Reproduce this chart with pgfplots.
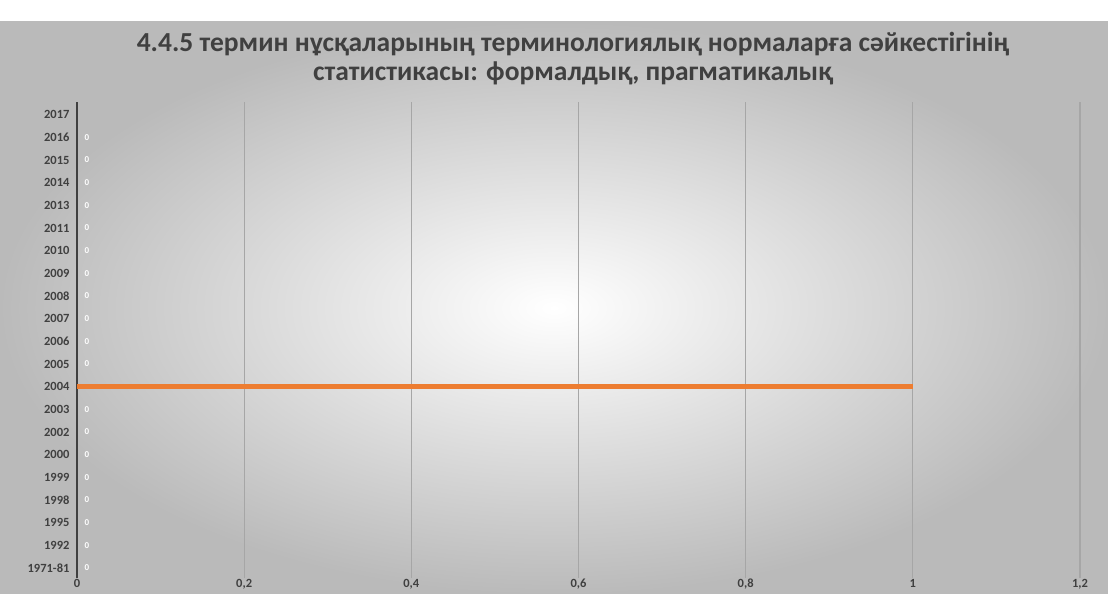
\documentclass[border=0pt]{standalone}
\usepackage{fontspec}
\setmainfont{Carlito}
\usepackage{pgfplots}
\pgfplotsset{compat=1.18}

\definecolor{barorange}{HTML}{ED7D31}
\definecolor{txt}{HTML}{404040}
\definecolor{gridgray}{HTML}{A6A6A6}

\begin{document}
\begin{tikzpicture}[x=1pt,y=1pt]
% background panel
\fill[white] (0,0) rectangle (1108,594);
\shade[inner color=white, outer color=black!27] (0,0) rectangle (1108,572);

\node[font=\bfseries\fontsize{27.5}{29}\selectfont, text=txt, align=center]
  at (573,535) {4.4.5 термин нұсқаларының терминологиялық нормаларға сәйкестігінің\\статистикасы: формалдық, прагматикалық};

\begin{axis}[
    at={(77pt,26pt)}, anchor=origin,
    scale only axis,
    width=1003pt, height=476pt,
    xbar,
    xmin=0, xmax=1.2,
    ymin=-0.45, ymax=20.55,
    xtick={0,0.2,...,1.2},
    ytick={0,...,20},
    yticklabels={1971-81,1992,1995,1998,1999,2000,2002,2003,2004,2005,2006,2007,2008,2009,2010,2011,2013,2014,2015,2016,2017},
    axis x line*=bottom,
    axis y line*=left,
    x axis line style={draw=none},
    y axis line style={draw=txt, line width=1.6pt},
    tick style={draw=none},
    major tick length=0pt,
    xmajorgrids,
    major grid style={draw=gridgray, line width=1.2pt},
    ticklabel style={font=\bfseries\fontsize{12.5}{13}\selectfont, text=txt},
    yticklabel style={xshift=-4pt},
    xticklabel style={text height=8pt, text depth=2pt, yshift=2pt},
    /pgf/number format/.cd, use comma, fixed, precision=1, assume math mode=true,
]
% zero values, shown only by their white labels
\addplot[draw=none, fill=none, bar width=5pt, bar shift=0pt,
    nodes near coords={0},
    nodes near coords style={font=\bfseries\fontsize{9}{9}\selectfont, text=white, anchor=west, xshift=4pt}]
  coordinates {
    (0,0) (0,1) (0,2) (0,3) (0,4) (0,5) (0,6) (0,7)
    (0,9) (0,10) (0,11) (0,12) (0,13) (0,14) (0,15) (0,16) (0,17) (0,18) (0,19)
  };
% 2004
\addplot[draw=none, fill=barorange, bar width=5pt, bar shift=0pt]
  coordinates {(1,8)};
\end{axis}
\end{tikzpicture}
\end{document}
